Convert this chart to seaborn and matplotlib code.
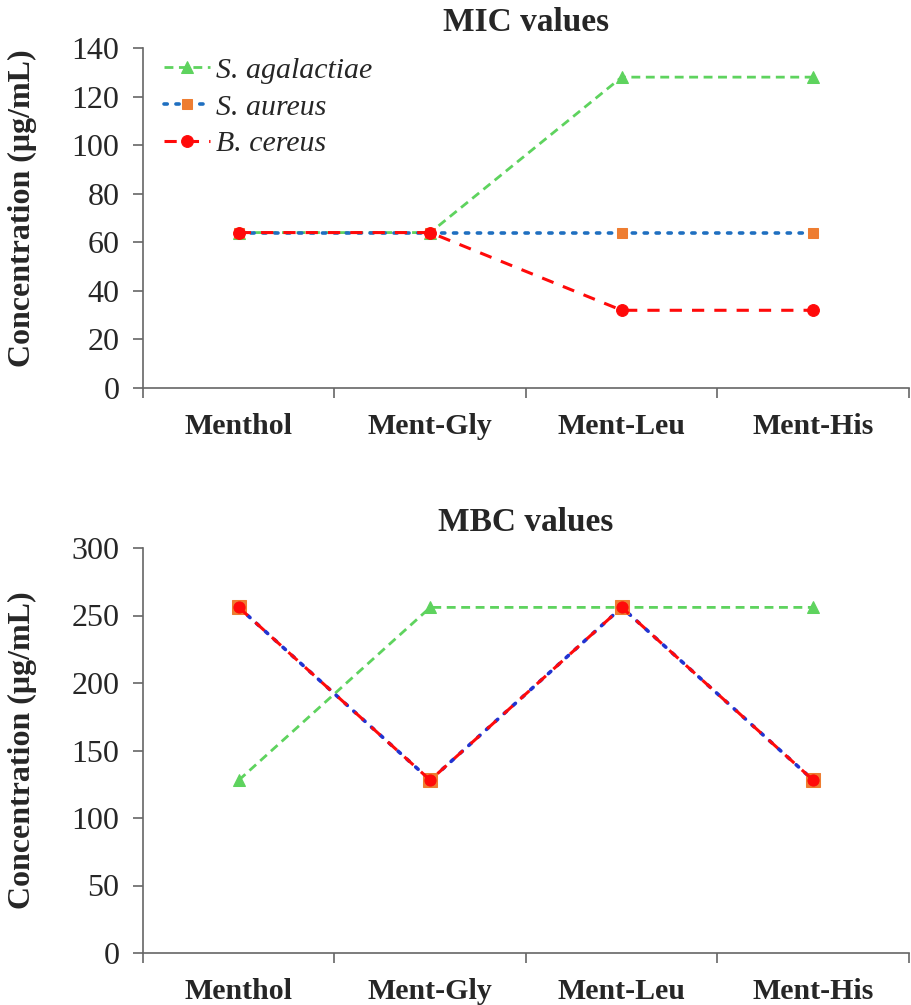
import numpy as np
import pandas as pd
import matplotlib
matplotlib.use("Agg")
import matplotlib.pyplot as plt
import seaborn as sns
from matplotlib.ticker import FixedLocator, NullFormatter, FixedFormatter

# ---- data ----
categories = ["Menthol", "Ment-Gly", "Ment-Leu", "Ment-His"]
series_names = ["S. agalactiae", "S. aureus", "B. cereus"]
mic_agalactiae = [64, 64, 128, 128]
mic_aureus = [64, 64, 64, 64]
mic_cereus = [64, 64, 32, 32]
mbc_agalactiae = [128, 256, 256, 256]
mbc_aureus = [256, 128, 256, 128]
mbc_cereus = [256, 128, 256, 128]
mic_yticks = [0, 20, 40, 60, 80, 100, 120, 140]
mbc_yticks = [0, 50, 100, 150, 200, 250, 300]

sns.set_style("white")
plt.rcParams['font.family'] = ['Liberation Serif', 'DejaVu Serif']
plt.rcParams['mathtext.fontset'] = 'stix'

fig = plt.figure(figsize=(9.12, 10.05), dpi=100)
W, H = 912, 1005
def axrect(l, t, r, b):
    return [l / W, 1 - b / H, (r - l) / W, (b - t) / H]

ax1 = fig.add_axes(axrect(143, 48, 909, 388))
ax2 = fig.add_axes(axrect(143, 548, 909, 953))

def styles_for(big):
    return [
        dict(color="#5ED35E", marker="^", markersize=8.5, lw=2.0, dashes=(3.2, 2.0)),
        dict(color="#1F6FC0" if not big else "#2233D0", marker="s",
             markersize=7.5 if not big else 9.5, lw=2.6, dashes=(0.9, 2.4),
             mfc="#EE7D31", mec="#EE7D31"),
        dict(color="#FF0A0A", marker="o", markersize=8.5 if not big else 8.0, lw=2.2, dashes=(4.0, 3.3)),
    ]

xpos = np.arange(len(categories))

def draw(ax, values_list, yticks, title, legend=False, big=False):
    styles = styles_for(big)
    for name, vals, st in zip(series_names, values_list, styles):
        df = pd.DataFrame({"x": xpos, "y": vals})
        kw = dict(color=st["color"], marker=st["marker"], markersize=st["markersize"],
                  linewidth=st["lw"], label=name)
        if "mfc" in st:
            kw["markerfacecolor"] = st["mfc"]
            kw["markeredgecolor"] = st["mec"]
        else:
            kw["markeredgecolor"] = st["color"]
        sns.lineplot(data=df, x="x", y="y", ax=ax, legend=False, **kw)
        line = ax.get_lines()[-1]
        line.set_dashes(st["dashes"])
        if st["marker"] == "s":
            line.set_dash_capstyle("round")
    ax.set_xlim(-0.5, len(categories) - 0.5)
    ax.set_ylim(yticks[0], yticks[-1])
    ax.set_yticks(yticks)
    ax.set_yticklabels([str(v) for v in yticks], fontsize=23)
    ax.xaxis.set_major_locator(FixedLocator(np.arange(-0.5, len(categories), 1.0)))
    ax.xaxis.set_major_formatter(NullFormatter())
    ax.xaxis.set_minor_locator(FixedLocator(xpos))
    ax.xaxis.set_minor_formatter(FixedFormatter(categories))
    ax.tick_params(axis="x", which="minor", length=0, pad=18, labelsize=21.5)
    for lab in ax.get_xticklabels(minor=True):
        lab.set_fontweight("bold")
    ax.tick_params(axis="x", which="major", direction="out", length=7, width=1.2, color="#666666", bottom=True)
    ax.tick_params(axis="y", direction="out", length=7, width=1.2, color="#666666", pad=10, left=True)
    for s in ["top", "right"]:
        ax.spines[s].set_visible(False)
    for s in ["left", "bottom"]:
        ax.spines[s].set_color("#666666")
        ax.spines[s].set_linewidth(1.2)
    ax.set_xlabel("")
    ax.set_ylabel("Concentration (μg/mL)", fontsize=23, fontweight="bold")
    ax.set_title(title, fontsize=24, fontweight="bold", pad=12)
    if legend:
        ax.legend(loc="upper left", bbox_to_anchor=(0.0, 1.035), frameon=False,
                  prop=dict(family="Liberation Serif", style="italic", size=21.5),
                  handlelength=1.55, handletextpad=0.2, labelspacing=0.33, borderaxespad=0.3)

draw(ax1, [mic_agalactiae, mic_aureus, mic_cereus], mic_yticks, "MIC values", legend=True)
draw(ax2, [mbc_agalactiae, mbc_aureus, mbc_cereus], mbc_yticks, "MBC values", big=True)

ax1.yaxis.set_label_coords(-0.138, 0.53)
ax2.yaxis.set_label_coords(-0.138, 0.5)

fig.savefig("out.png", dpi=100)
